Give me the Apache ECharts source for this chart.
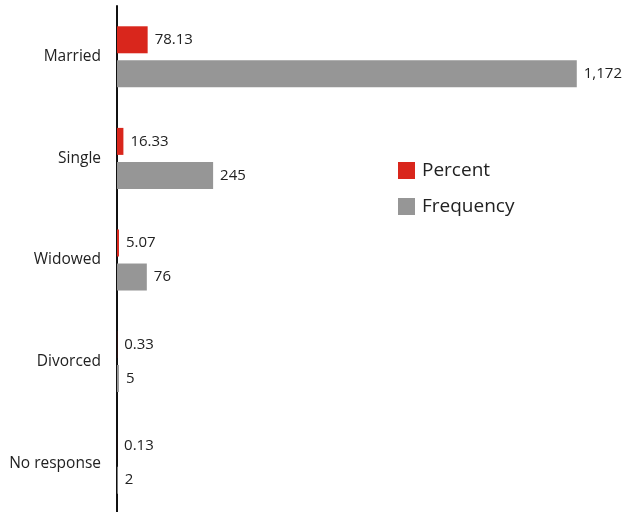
<!DOCTYPE html>
<html>
<head>
<meta charset="utf-8">
<script src="https://cdn.jsdelivr.net/npm/echarts@6/dist/echarts.min.js"></script>
<style>
  html, body { margin: 0; padding: 0; background: #fff; overflow: hidden; }
  /* the axis runs off the bottom edge, so the canvas is a little taller than the window */
  #chart { width: 627px; height: 520px; }
</style>
</head>
<body>
<div id="chart"></div>
<script>
// Marital status of respondents
const categories = ['Married', 'Single', 'Widowed', 'Divorced', 'No response'];
const percentValues = [78.13, 16.33, 5.07, 0.33, 0.13];
const frequencyValues = [1172, 245, 76, 5, 2];

const FONT = '"Open Sans", sans-serif';

function withCommas(v) {
  return String(v).replace(/\B(?=(\d{3})+(?!\d))/g, ',');
}

const chart = echarts.init(document.getElementById('chart'), null, { renderer: 'canvas' });

const valueLabel = {
  show: true,
  position: 'right',
  distance: 7,
  color: '#222',
  fontFamily: FONT,
  fontSize: 15
};

chart.setOption({
  animation: false,
  backgroundColor: '#fff',
  legend: {
    orient: 'vertical',
    left: 398,
    top: 161,
    padding: 0,
    itemWidth: 17,
    itemHeight: 17,
    itemGap: 17,
    icon: 'rect',
    textStyle: { color: '#222', fontFamily: FONT, fontSize: 19, padding: [0, 0, 0, 2] },
    data: ['Percent', 'Frequency']
  },
  grid: { left: 117, top: 6, width: 514, height: 508 },
  xAxis: {
    type: 'value',
    min: 0,
    max: 1300,
    show: false
  },
  yAxis: {
    type: 'category',
    data: categories,
    inverse: true,
    axisLine: { show: true, lineStyle: { color: '#111', width: 2 } },
    axisTick: { show: false },
    axisLabel: { color: '#222', fontFamily: FONT, fontSize: 15.5, margin: 16 },
    splitLine: { show: false }
  },
  series: [
    {
      name: 'Percent',
      type: 'bar',
      data: percentValues,
      barWidth: 27,
      barGap: '26%',
      itemStyle: { color: '#d9261c' },
      label: Object.assign({}, valueLabel, {
        formatter: p => p.value.toFixed(2)
      })
    },
    {
      name: 'Frequency',
      type: 'bar',
      data: frequencyValues,
      barWidth: 27,
      barGap: '26%',
      itemStyle: { color: '#969696' },
      label: Object.assign({}, valueLabel, {
        formatter: p => withCommas(p.value)
      })
    }
  ]
});
</script>
</body>
</html>
